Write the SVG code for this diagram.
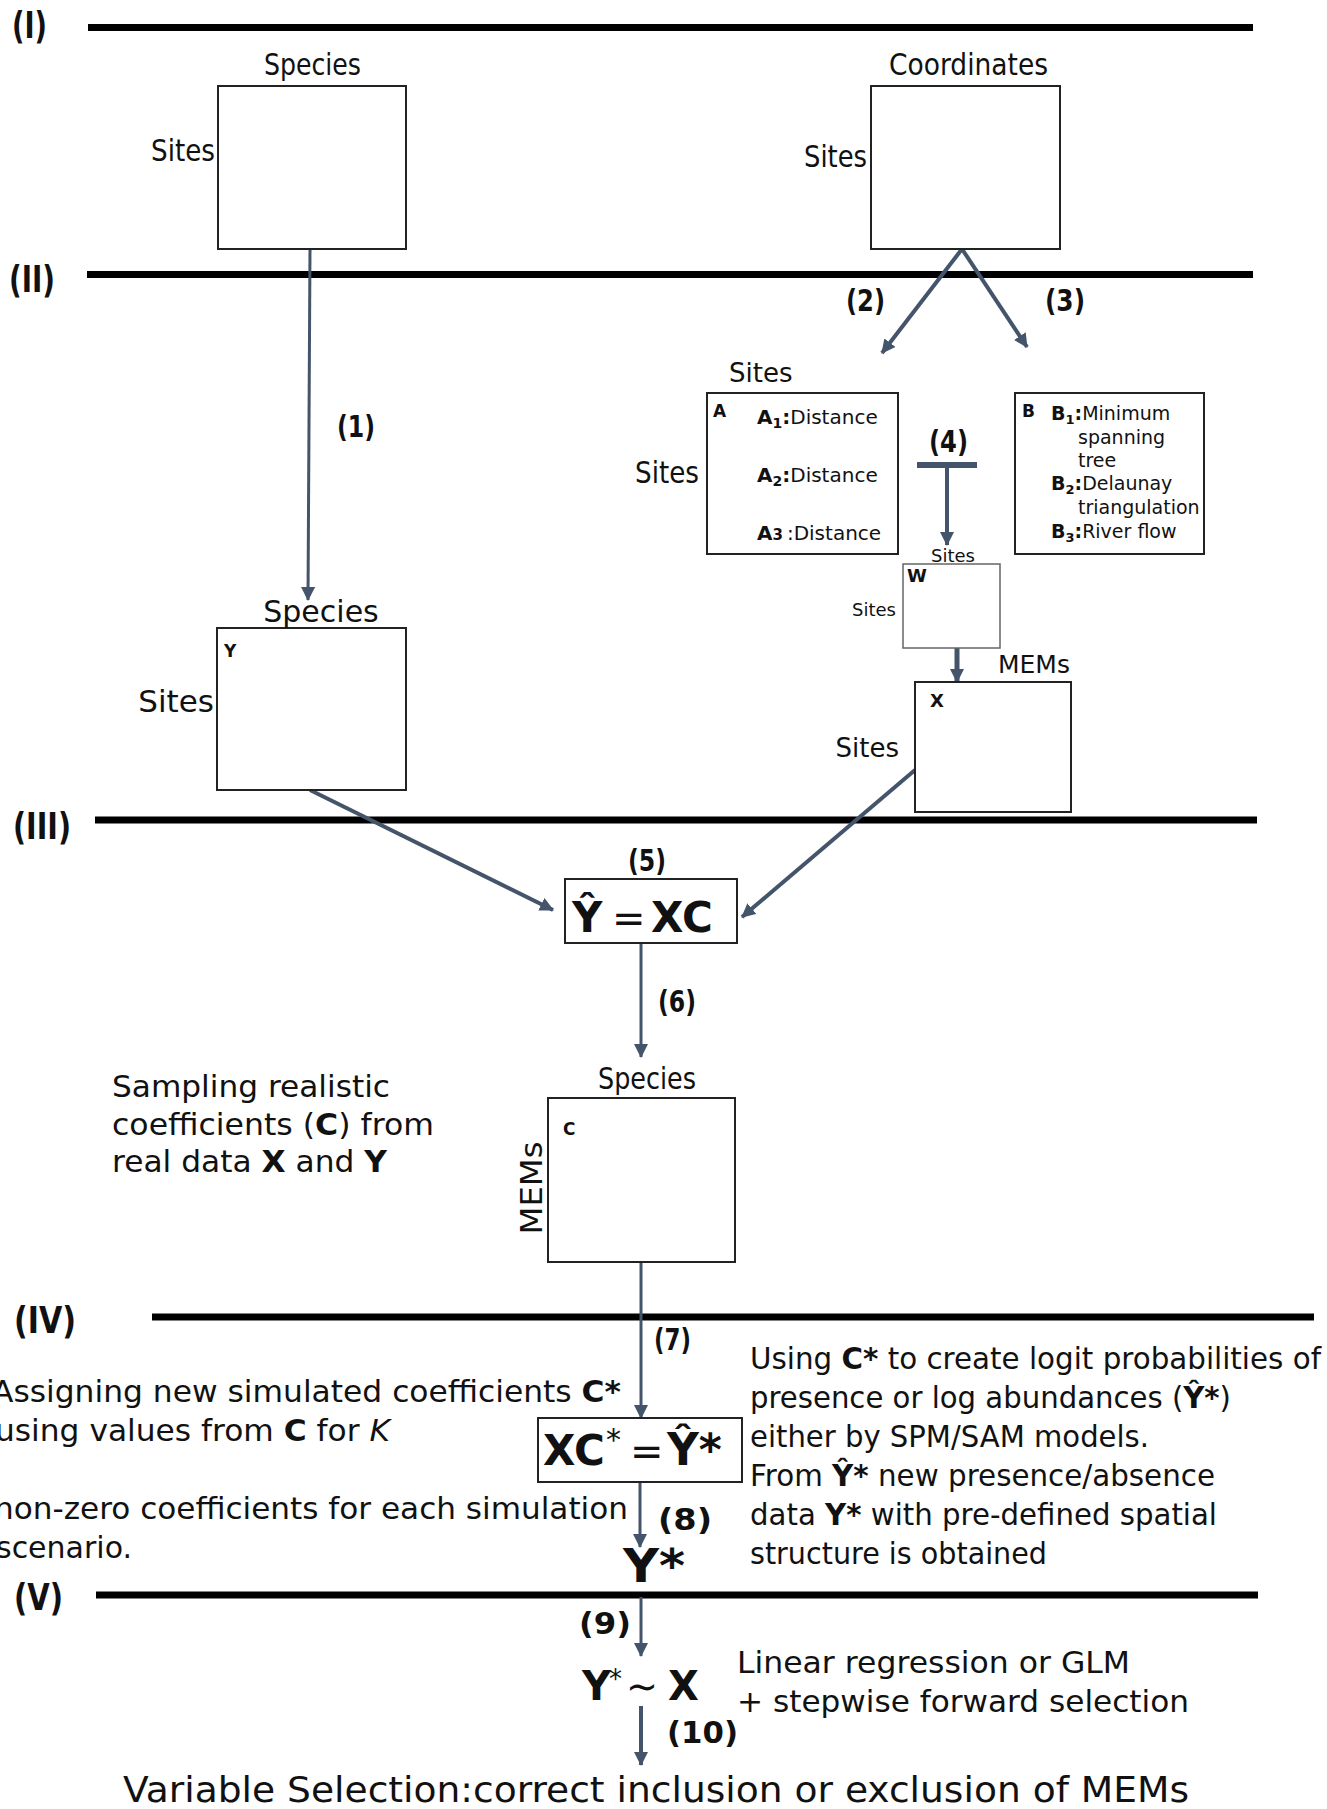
<svg xmlns="http://www.w3.org/2000/svg" width="1327" height="1809" viewBox="0 0 1327 1809">
<style>
text{font-family:"DejaVu Sans","Liberation Sans",sans-serif;fill:#111}
.b{font-weight:bold}
.box{fill:#fff;stroke:#222;stroke-width:2}
.sep{stroke:#000;stroke-width:7}
.arr{stroke:#44546A;fill:none;marker-end:url(#ah)}
.lvl{font-weight:bold;font-size:38px}
.num{font-weight:bold;font-size:30px}
.p{font-size:30px}
</style>
<defs>
<marker id="ah" markerUnits="userSpaceOnUse" viewBox="0 0 14 14" markerWidth="14" markerHeight="14" refX="13" refY="7" orient="auto">
<path d="M0,0 L14,7 L0,14 z" fill="#44546A"/>
</marker>
</defs>
<rect width="1327" height="1809" fill="#fff"/>

<g id="levels">
<line class="sep" x1="88" y1="27.5" x2="1253" y2="27.5"/>
<line class="sep" x1="87" y1="274.5" x2="1253" y2="274.5"/>
<line class="sep" x1="95" y1="820" x2="1257" y2="820"/>
<line class="sep" x1="152" y1="1317" x2="1314" y2="1317"/>
<line class="sep" x1="96" y1="1595" x2="1258" y2="1595"/>
<text class="lvl" x="12" y="38" textLength="35" lengthAdjust="spacingAndGlyphs">(I)</text>
<text class="lvl" x="9" y="292" textLength="46" lengthAdjust="spacingAndGlyphs">(II)</text>
<text class="lvl" x="13" y="839" textLength="58" lengthAdjust="spacingAndGlyphs">(III)</text>
<text class="lvl" x="14" y="1333" textLength="62" lengthAdjust="spacingAndGlyphs">(IV)</text>
<text class="lvl" x="14" y="1610" textLength="49" lengthAdjust="spacingAndGlyphs">(V)</text>
</g>

<g id="connectors">
<line class="arr" stroke-width="3" x1="310" y1="249" x2="308" y2="600"/>
<line class="arr" stroke-width="4" x1="962" y1="249" x2="882" y2="353"/>
<line class="arr" stroke-width="4" x1="962" y1="249" x2="1027" y2="347"/>
<line stroke="#44546A" stroke-width="6" x1="917" y1="465" x2="977" y2="465"/>
<line class="arr" stroke-width="4" x1="947" y1="465" x2="947" y2="545"/>
<line class="arr" stroke-width="5" x1="957" y1="648" x2="957" y2="682"/>
<line class="arr" stroke-width="4" x1="310" y1="790" x2="553" y2="910"/>
<line class="arr" stroke-width="4" x1="915" y1="770" x2="742" y2="917"/>
<line class="arr" stroke-width="3" x1="641" y1="943" x2="641" y2="1057"/>
<line class="arr" stroke-width="3" x1="641" y1="1262" x2="641" y2="1418"/>
<line class="arr" stroke-width="3" x1="640" y1="1482" x2="640" y2="1547"/>
<line class="arr" stroke-width="3" x1="641" y1="1597" x2="641" y2="1656"/>
<line class="arr" stroke-width="4" x1="641" y1="1706" x2="641" y2="1765"/>
<text class="num" x="337" y="437" textLength="38" lengthAdjust="spacingAndGlyphs">(1)</text>
<text class="num" x="846" y="311" textLength="39" lengthAdjust="spacingAndGlyphs">(2)</text>
<text class="num" x="1045" y="311" textLength="40" lengthAdjust="spacingAndGlyphs">(3)</text>
<text class="num" x="929" y="452" textLength="39" lengthAdjust="spacingAndGlyphs">(4)</text>
<text class="num" x="628" y="871" textLength="38" lengthAdjust="spacingAndGlyphs">(5)</text>
<text class="num" x="658" y="1012" textLength="38" lengthAdjust="spacingAndGlyphs">(6)</text>
<text class="num" x="654" y="1350" textLength="37" lengthAdjust="spacingAndGlyphs">(7)</text>
<text class="num" x="658" y="1530" textLength="54" lengthAdjust="spacingAndGlyphs">(8)</text>
<text class="num" x="579" y="1634" textLength="52" lengthAdjust="spacingAndGlyphs">(9)</text>
<text class="num" x="667" y="1743" textLength="71" lengthAdjust="spacingAndGlyphs">(10)</text>
</g>

<g id="species-matrix">
<rect class="box" x="218" y="86" width="188" height="163"/>
<text x="264" y="75" font-size="31" textLength="97" lengthAdjust="spacingAndGlyphs">Species</text>
<text x="151" y="161" font-size="31" textLength="64" lengthAdjust="spacingAndGlyphs">Sites</text>
</g>

<g id="coordinates-matrix">
<rect class="box" x="871" y="86" width="189" height="163"/>
<text x="889" y="75" font-size="31" textLength="159" lengthAdjust="spacingAndGlyphs">Coordinates</text>
<text x="804" y="167" font-size="31" textLength="63" lengthAdjust="spacingAndGlyphs">Sites</text>
</g>

<g id="matrix-A">
<rect class="box" x="707" y="393" width="191" height="161"/>
<text x="729" y="382" font-size="26">Sites</text>
<text x="635" y="483" font-size="31" textLength="64" lengthAdjust="spacingAndGlyphs">Sites</text>
<text x="713" y="417" font-size="17" class="b">A</text>
<text x="757" y="424" font-size="20"><tspan class="b">A<tspan font-size="14" dy="4">1</tspan><tspan dy="-4">:</tspan></tspan>Distance</text>
<text x="757" y="482" font-size="20"><tspan class="b">A<tspan font-size="14" dy="4">2</tspan><tspan dy="-4">:</tspan></tspan>Distance</text>
<text x="757" y="540" font-size="20"><tspan class="b">A<tspan font-size="15">3</tspan></tspan><tspan dx="4">:Distance</tspan></text>
</g>

<g id="matrix-B">
<rect class="box" x="1015" y="393" width="189" height="161"/>
<text x="1022" y="417" font-size="17" class="b">B</text>
<text x="1051" y="420" font-size="19"><tspan class="b">B<tspan font-size="13" dy="4">1</tspan><tspan dy="-4">:</tspan></tspan>Minimum</text>
<text x="1078" y="444" font-size="19">spanning</text>
<text x="1078" y="467" font-size="19">tree</text>
<text x="1051" y="490" font-size="19"><tspan class="b">B<tspan font-size="13" dy="4">2</tspan><tspan dy="-4">:</tspan></tspan>Delaunay</text>
<text x="1078" y="514" font-size="19">triangulation</text>
<text x="1051" y="538" font-size="19"><tspan class="b">B<tspan font-size="13" dy="4">3</tspan><tspan dy="-4">:</tspan></tspan>River flow</text>
</g>

<g id="matrix-W">
<rect x="903" y="564" width="97" height="84" fill="#fff" stroke="#666" stroke-width="1.5"/>
<text x="953" y="562" font-size="18" text-anchor="middle">Sites</text>
<text x="896" y="616" font-size="18" text-anchor="end">Sites</text>
<text x="907" y="582" font-size="18" class="b">W</text>
</g>

<g id="matrix-X">
<rect class="box" x="915" y="682" width="156" height="130"/>
<text x="998" y="673" font-size="25">MEMs</text>
<text x="899" y="757" font-size="26" text-anchor="end">Sites</text>
<text x="930" y="707" font-size="18" class="b">X</text>
</g>

<g id="matrix-Y">
<rect class="box" x="217" y="628" width="189" height="162"/>
<text x="321" y="622" font-size="30" text-anchor="middle">Species</text>
<text x="214" y="712" font-size="31" text-anchor="end">Sites</text>
<text x="224" y="657" font-size="17" class="b">Y</text>
</g>

<g id="model-eq">
<rect class="box" x="565" y="879" width="172" height="64"/>
<text x="572" y="932" font-size="42" class="b">Ŷ</text>
<text x="612" y="932" font-size="40">=</text>
<text x="651" y="932" font-size="42" class="b">XC</text>
</g>

<g id="matrix-C">
<rect class="box" x="548" y="1098" width="187" height="164"/>
<text x="598" y="1089" font-size="31" textLength="98" lengthAdjust="spacingAndGlyphs">Species</text>
<text x="563" y="1135" font-size="17" class="b">C</text>
<text transform="translate(542,1188) rotate(-90)" font-size="31" text-anchor="middle" textLength="93" lengthAdjust="spacingAndGlyphs">MEMs</text>
</g>

<g id="sampling-note">
<text class="p" x="112" y="1097" textLength="278" lengthAdjust="spacingAndGlyphs">Sampling realistic</text>
<text class="p" x="112" y="1135" textLength="322" lengthAdjust="spacingAndGlyphs">coefficients (<tspan class="b">C</tspan>) from</text>
<text class="p" x="112" y="1172" textLength="275" lengthAdjust="spacingAndGlyphs">real data <tspan class="b">X</tspan> and <tspan class="b">Y</tspan></text>
</g>

<g id="sim-eq">
<rect class="box" x="538" y="1418" width="204" height="64"/>
<text x="543" y="1465" font-size="42" class="b">XC</text>
<text x="606" y="1450" font-size="30">*</text>
<text x="630" y="1465" font-size="40">=</text>
<text x="667" y="1465" font-size="44" class="b">Ŷ*</text>
</g>

<g id="assign-note">
<text class="p" x="-8" y="1402" textLength="629" lengthAdjust="spacingAndGlyphs">Assigning new simulated coefficients <tspan class="b">C*</tspan></text>
<text class="p" x="-5" y="1441" textLength="395" lengthAdjust="spacingAndGlyphs">using values from <tspan class="b">C</tspan> for <tspan font-style="italic">K</tspan></text>
<text class="p" x="-6" y="1519" textLength="634" lengthAdjust="spacingAndGlyphs">non-zero coefficients for each simulation</text>
<text class="p" x="-4" y="1558" textLength="136" lengthAdjust="spacingAndGlyphs">scenario.</text>
</g>

<g id="logit-note">
<text class="p" x="750" y="1369" textLength="571" lengthAdjust="spacingAndGlyphs">Using <tspan class="b">C*</tspan> to create logit probabilities of</text>
<text class="p" x="750" y="1408" textLength="481" lengthAdjust="spacingAndGlyphs">presence or log abundances (<tspan class="b">Ŷ*</tspan>)</text>
<text class="p" x="750" y="1447" textLength="399" lengthAdjust="spacingAndGlyphs">either by SPM/SAM models.</text>
<text class="p" x="750" y="1486" textLength="465" lengthAdjust="spacingAndGlyphs">From <tspan class="b">Ŷ*</tspan> new presence/absence</text>
<text class="p" x="750" y="1525" textLength="467" lengthAdjust="spacingAndGlyphs">data <tspan class="b">Y*</tspan> with pre-defined spatial</text>
<text class="p" x="750" y="1564" textLength="297" lengthAdjust="spacingAndGlyphs">structure is obtained</text>
</g>

<g id="sim-data">
<text x="623" y="1582" font-size="46" class="b" textLength="62" lengthAdjust="spacingAndGlyphs">Y*</text>
</g>

<g id="regression">
<text x="582" y="1700" font-size="40" class="b">Y</text>
<text x="609" y="1688" font-size="26">*</text>
<text x="626" y="1700" font-size="40" textLength="32" lengthAdjust="spacingAndGlyphs">∼</text>
<text x="668" y="1700" font-size="40" class="b">X</text>
<text class="p" x="737" y="1673" textLength="393" lengthAdjust="spacingAndGlyphs">Linear regression or GLM</text>
<text class="p" x="737" y="1712" textLength="452" lengthAdjust="spacingAndGlyphs">+ stepwise forward selection</text>
</g>

<g id="variable-selection">
<text x="123" y="1802" font-size="35" textLength="1066" lengthAdjust="spacingAndGlyphs">Variable Selection:correct inclusion or exclusion of MEMs</text>
</g>
</svg>
